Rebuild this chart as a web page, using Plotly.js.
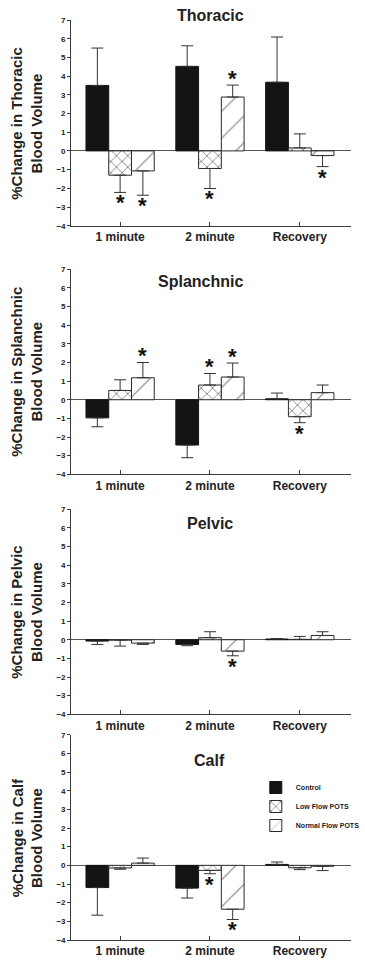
<!DOCTYPE html>
<html>
<head>
<meta charset="utf-8">
<script src="https://cdn.plot.ly/plotly-3.0.1.min.js"></script>
<style>html,body{margin:0;padding:0;background:#fff;}#chart{width:365px;height:961px;}</style>
</head>
<body>
<div id="chart"></div>
<script>
// ---- data ----
const categories = ['1 minute', '2 minute', 'Recovery'];
const seriesNames = ['Control', 'Low Flow POTS', 'Normal Flow POTS'];
const panelTitles = ['Thoracic', 'Splanchnic', 'Pelvic', 'Calf'];
const yTitles = [
  '%Change in Thoracic<br>Blood Volume',
  '%Change in Splanchnic<br>Blood Volume',
  '%Change in Pelvic<br>Blood Volume',
  '%Change in Calf<br>Blood Volume'
];

// Thoracic
const thoracicControl = [3.5, 4.52, 3.67];
const thoracicControlErr = [2.0, 1.1, 2.42];
const thoracicLow = [-1.3, -0.94, 0.16];
const thoracicLowErr = [0.92, 1.07, 0.75];
const thoracicNormal = [-1.07, 2.88, -0.25];
const thoracicNormalErr = [1.3, 0.64, 0.59];
const thoracicSig = [[0, 0, 0], [1, 1, 0], [1, 1, 1]];

// Splanchnic
const splanchnicControl = [-0.97, -2.43, 0.05];
const splanchnicControlErr = [0.48, 0.68, 0.31];
const splanchnicLow = [0.5, 0.79, -0.91];
const splanchnicLowErr = [0.57, 0.62, 0.32];
const splanchnicNormal = [1.18, 1.22, 0.38];
const splanchnicNormalErr = [0.82, 0.75, 0.41];
const splanchnicSig = [[0, 0, 0], [0, 1, 1], [1, 1, 0]];

// Pelvic
const pelvicControl = [-0.07, -0.25, 0.04];
const pelvicControlErr = [0.18, 0.07, 0.02];
const pelvicLow = [-0.02, 0.11, 0.02];
const pelvicLowErr = [0.32, 0.32, 0.16];
const pelvicNormal = [-0.18, -0.61, 0.23];
const pelvicNormalErr = [0.07, 0.25, 0.2];
const pelvicSig = [[0, 0, 0], [0, 0, 0], [0, 1, 0]];

// Calf
const calfControl = [-1.19, -1.22, 0.05];
const calfControlErr = [1.48, 0.53, 0.13];
const calfLow = [-0.14, -0.27, -0.13];
const calfLowErr = [0.07, 0.18, 0.1];
const calfNormal = [0.12, -2.35, -0.05];
const calfNormalErr = [0.27, 0.55, 0.23];
const calfSig = [[0, 0, 0], [0, 1, 0], [0, 1, 0]];

const yTickVals = [-4, -3, -2, -1, 0, 1, 2, 3, 4, 5, 6, 7];

const panels = [
  {vals: [thoracicControl, thoracicLow, thoracicNormal], errs: [thoracicControlErr, thoracicLowErr, thoracicNormalErr], sig: thoracicSig},
  {vals: [splanchnicControl, splanchnicLow, splanchnicNormal], errs: [splanchnicControlErr, splanchnicLowErr, splanchnicNormalErr], sig: splanchnicSig},
  {vals: [pelvicControl, pelvicLow, pelvicNormal], errs: [pelvicControlErr, pelvicLowErr, pelvicNormalErr], sig: pelvicSig},
  {vals: [calfControl, calfLow, calfNormal], errs: [calfControlErr, calfLowErr, calfNormalErr], sig: calfSig}
];

// ---- layout constants ----
const W = 365, H = 961;
const FONT = 'Arial, "Liberation Sans", Helvetica, sans-serif';
const axisColor = '#3a3a3a';
const panelPx = [[20, 225.7], [269.3, 474.3], [509.3, 714.3], [734.7, 940]];
const titleCx = [219, 209, 218, 217.5];
const titleCy = [15, 281.7, 523, 760];
const plotLeftPx = 74;
const bargap = 0.24;
const barW = (1 - bargap) / 3;

const markerStyles = [
  {color: '#141414', line: {color: '#141414', width: 1}},
  {color: '#ffffff', line: {color: '#2a2a2a', width: 1},
   pattern: {shape: 'x', fgcolor: '#000000', bgcolor: '#ffffff', size: 8, solidity: 0.2, fillmode: 'overlay'}},
  {color: '#ffffff', line: {color: '#2a2a2a', width: 1},
   pattern: {shape: '/', fgcolor: '#000000', bgcolor: '#ffffff', size: 19, solidity: 0.06, fillmode: 'overlay'}}
];

const traces = [];
const annotations = [];
const layout = {
  width: W, height: H,
  margin: {l: 0, r: 0, t: 0, b: 0, pad: 0},
  paper_bgcolor: '#fff', plot_bgcolor: '#fff',
  barmode: 'group', bargap: bargap, bargroupgap: 0,
  font: {family: FONT, color: '#222'},
  showlegend: true,
  legend: {
    x: 266 / W, y: 1 - 773 / H, xanchor: 'left', yanchor: 'top',
    font: {family: FONT, size: 7, color: '#222', weight: 'bold'},
    bgcolor: 'rgba(0,0,0,0)', itemwidth: 30, tracegroupgap: 0
  },
  annotations: annotations
};

panels.forEach((p, pi) => {
  const k = pi === 0 ? '' : String(pi + 1);
  const xa = 'x' + k, ya = 'y' + k;
  for (let s = 0; s < 3; s++) {
    const v = p.vals[s], e = p.errs[s];
    traces.push({
      type: 'bar',
      name: seriesNames[s],
      showlegend: pi === 0,
      x: [0, 1, 2], y: v,
      xaxis: xa, yaxis: ya,
      marker: markerStyles[s],
      error_y: {
        type: 'data', symmetric: false,
        array: v.map((val, i) => val >= 0 ? e[i] : 0),
        arrayminus: v.map((val, i) => val < 0 ? e[i] : 0),
        color: '#333', thickness: 1, width: 6
      },
      hoverinfo: 'skip'
    });
    p.sig[s].forEach((flag, i) => {
      if (!flag) return;
      const up = v[i] >= 0;
      annotations.push({
        xref: xa, yref: ya,
        x: i + (s - 1) * barW,
        y: up ? v[i] + e[i] : v[i] - e[i],
        text: '*', showarrow: false,
        font: {family: FONT, size: 22, color: '#111', weight: 'bold'},
        xanchor: 'center', yanchor: up ? 'bottom' : 'top',
        yshift: up ? -8 : 4
      });
    });
  }
  const [top, bot] = panelPx[pi];
  layout['xaxis' + k] = {
    domain: [plotLeftPx / W, 1], anchor: ya,
    range: [-0.545, 2.57],
    tickvals: [0, 1, 2], ticktext: categories,
    showticklabels: true,
    ticks: 'inside', ticklen: 4, tickcolor: axisColor, tickwidth: 1,
    tickfont: {family: FONT, size: 12, color: '#222', weight: 'bold'},
    showline: true, linecolor: axisColor, linewidth: 1,
    showgrid: false, zeroline: false, fixedrange: true, automargin: false
  };
  layout['yaxis' + k] = {
    domain: [1 - bot / H, 1 - top / H], anchor: xa,
    range: [-4, 7],
    tickvals: yTickVals,
    ticks: 'outside', ticklen: 3, tickcolor: axisColor, tickwidth: 1,
    tickfont: {family: FONT, size: 8, color: '#222', weight: 'bold'},
    showline: true, linecolor: axisColor, linewidth: 1,
    showgrid: false, zeroline: true, zerolinecolor: '#555', zerolinewidth: 1,
    fixedrange: true, automargin: false
  };
  annotations.push({
    xref: 'paper', yref: 'paper',
    x: titleCx[pi] / W, y: 1 - titleCy[pi] / H,
    text: panelTitles[pi], showarrow: false,
    font: {family: FONT, size: 16, color: '#222', weight: 'bold'},
    xanchor: 'center', yanchor: 'middle'
  });
  annotations.push({
    xref: 'paper', yref: 'paper',
    x: 28 / W, y: 1 - (top + bot) / 2 / H,
    text: yTitles[pi], showarrow: false, textangle: -90,
    font: {family: FONT, size: 15, color: '#222', weight: 'bold'},
    xanchor: 'center', yanchor: 'middle'
  });
});

Plotly.newPlot('chart', traces, layout, {displayModeBar: false, staticPlot: true});
</script>
</body>
</html>
